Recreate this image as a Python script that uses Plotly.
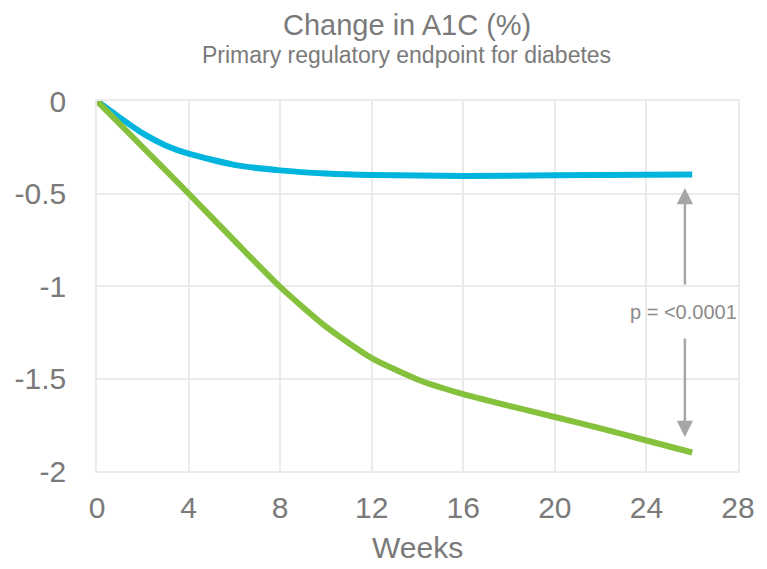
import plotly.graph_objects as go

weeks_blue = [0, 1, 2, 3, 4, 6, 8, 10, 12, 16, 20, 24, 26]
a1c_blue = [0, -0.09, -0.175, -0.24, -0.285, -0.345, -0.375, -0.392, -0.400, -0.405, -0.402, -0.398, -0.397]
weeks_green = [0, 2, 4, 6, 8, 10, 12, 14, 16, 18, 20, 22, 24, 26]
a1c_green = [0, -0.25, -0.50, -0.755, -1.005, -1.22, -1.39, -1.505, -1.585, -1.648, -1.708, -1.77, -1.835, -1.90]
x_ticks = [0, 4, 8, 12, 16, 20, 24, 28]
y_ticks = [0, -0.5, -1, -1.5, -2]
y_tick_text = ["0", "-0.5", "-1", "-1.5", "-2"]

FONT = "Liberation Sans, Arial, sans-serif"
GRAY = "#7a7a7a"
GRID = "#ebebeb"

fig = go.Figure()
fig.add_trace(go.Scatter(x=weeks_blue, y=a1c_blue, mode="lines",
                         line=dict(color="#00b5dd", width=6, shape="spline", smoothing=0.6),
                         showlegend=False, hoverinfo="skip"))
fig.add_trace(go.Scatter(x=weeks_green, y=a1c_green, mode="lines",
                         line=dict(color="#86c13d", width=6, shape="spline", smoothing=0.6),
                         showlegend=False, hoverinfo="skip"))

# arrows
ARROW_X = 25.68
fig.add_annotation(x=ARROW_X, y=-0.47, ax=ARROW_X, ay=-1.0, xref="x", yref="y", axref="x", ayref="y",
                   text="", showarrow=True, arrowhead=2, arrowsize=1.3, arrowwidth=2.5, arrowcolor="#a6a6a6")
fig.add_annotation(x=ARROW_X, y=-1.816, ax=ARROW_X, ay=-1.276, xref="x", yref="y", axref="x", ayref="y",
                   text="", showarrow=True, arrowhead=2, arrowsize=1.3, arrowwidth=2.5, arrowcolor="#a6a6a6")
fig.add_annotation(x=25.6, y=-1.14, xref="x", yref="y", text="p = <0.0001", showarrow=False,
                   font=dict(family=FONT, size=20, color="#8c8c8c"))

fig.add_annotation(x=0.483, y=1.205, xref="paper", yref="paper", text="Change in A1C (%)", showarrow=False,
                   font=dict(family=FONT, size=29, color=GRAY), yanchor="middle")
fig.add_annotation(x=0.483, y=1.124, xref="paper", yref="paper", text="Primary regulatory endpoint for diabetes",
                   showarrow=False, font=dict(family=FONT, size=23, color=GRAY), yanchor="middle")
fig.add_annotation(x=0.5, y=-0.207, xref="paper", yref="paper", text="Weeks", showarrow=False,
                   font=dict(family=FONT, size=30, color=GRAY), yanchor="middle")

fig.update_layout(
    width=767, height=569,
    margin=dict(l=97, r=19, t=101, b=98),
    paper_bgcolor="white", plot_bgcolor="white",
    font=dict(family=FONT, color=GRAY),
    xaxis=dict(range=[0, 28], tickvals=x_ticks, showgrid=True, gridcolor=GRID, gridwidth=1.5,
               zeroline=False, showline=True, linecolor=GRID, linewidth=1.5, mirror=True,
               tickfont=dict(size=30, color=GRAY), ticks="", ticklabelstandoff=9),
    yaxis=dict(range=[-2, 0], tickvals=y_ticks, ticktext=y_tick_text, showgrid=True, gridcolor=GRID,
               gridwidth=1.5, zeroline=False, showline=True, linecolor=GRID, linewidth=1.5, mirror=True,
               tickfont=dict(size=30, color=GRAY), ticks="", ticklabelstandoff=23),
)

fig.write_html("out.html")
